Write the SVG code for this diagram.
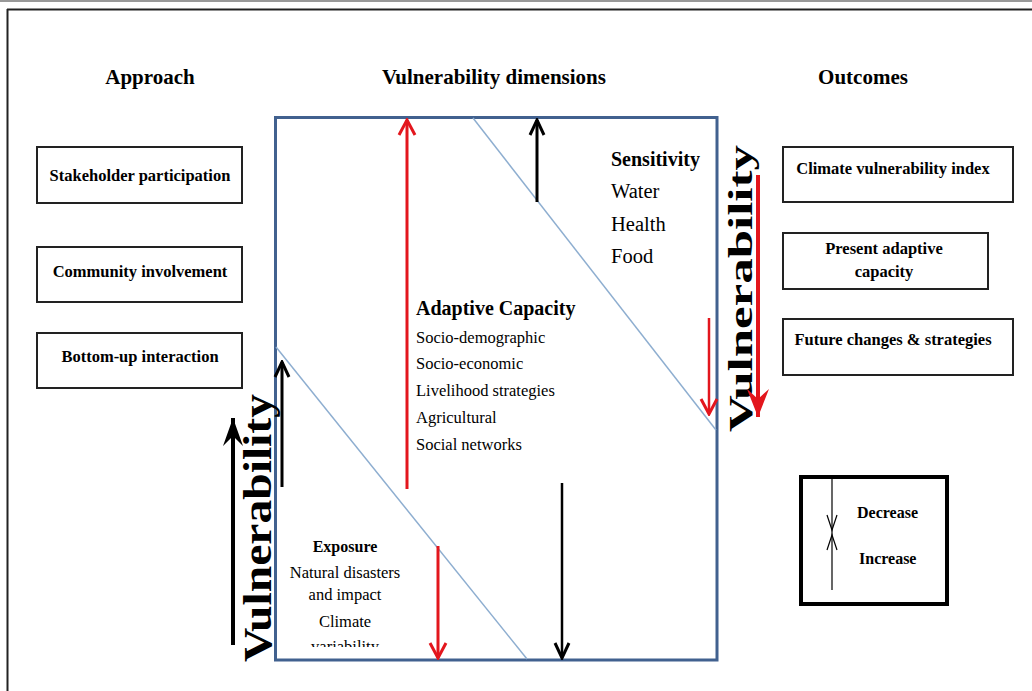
<svg xmlns="http://www.w3.org/2000/svg" width="1032" height="691" viewBox="0 0 1032 691">
<defs>
<style>
.h{font-family:"Liberation Serif",serif;font-weight:bold;font-size:21px;text-anchor:middle;fill:#000}
.bx{fill:#fff;stroke:#222;stroke-width:2}
.bt{font-family:"Liberation Serif",serif;font-weight:bold;font-size:16.5px;text-anchor:middle;fill:#000}
.rg{font-family:"Liberation Serif",serif;fill:#000}
.bd{font-family:"Liberation Serif",serif;font-weight:bold;fill:#000}
.diag{stroke:#8eaed0;stroke-width:1.5;fill:none}
.red{stroke:#e3161d;fill:none}
.blk{stroke:#000;fill:none}
</style>
<marker id="chevRed" viewBox="0 0 20 20" refX="18" refY="10" markerWidth="20" markerHeight="20" markerUnits="userSpaceOnUse" orient="auto">
<path d="M3,2 L18,10 L3,18" fill="none" stroke="#e3161d" stroke-width="3"/>
</marker>
<marker id="chevBlk" viewBox="0 0 20 20" refX="18" refY="10" markerWidth="20" markerHeight="20" markerUnits="userSpaceOnUse" orient="auto">
<path d="M3,3 L18,10 L3,17" fill="none" stroke="#000" stroke-width="3"/>
</marker>
<marker id="barbBlk" viewBox="0 0 30 24" refX="28" refY="12" markerWidth="30" markerHeight="24" markerUnits="userSpaceOnUse" orient="auto">
<path d="M0,2 L28,12 L0,22 L10,12 Z" fill="#000"/>
</marker>
<marker id="barbRed" viewBox="0 0 30 26" refX="28" refY="13" markerWidth="30" markerHeight="26" markerUnits="userSpaceOnUse" orient="auto">
<path d="M0,2 L28,13 L0,24 L10,13 Z" fill="#e3161d"/>
</marker>
<clipPath id="clipExp"><rect x="276" y="520" width="200" height="127"/></clipPath>
</defs>
<rect x="0" y="0" width="1032" height="691" fill="#fff"/>
<g id="frame">
<line x1="0" y1="1" x2="1032" y2="1" stroke="#777" stroke-width="1.5"/>
<line x1="7" y1="9.5" x2="1032" y2="9.5" stroke="#222" stroke-width="2"/>
<line x1="7.5" y1="9" x2="7.5" y2="691" stroke="#222" stroke-width="2"/>
</g>
<g id="headings">
<text class="h" x="150" y="84">Approach</text>
<text class="h" x="494" y="84">Vulnerability dimensions</text>
<text class="h" x="863" y="84">Outcomes</text>
</g>
<g id="stakeholder"><rect class="bx" x="37" y="147" width="205" height="56"/><text class="bt" x="140" y="181">Stakeholder participation</text></g>
<g id="community"><rect class="bx" x="37" y="247" width="205" height="55"/><text class="bt" x="140" y="277">Community involvement</text></g>
<g id="bottomup"><rect class="bx" x="37" y="333" width="205" height="55"/><text class="bt" x="140" y="362">Bottom-up interaction</text></g>
<g id="cvi"><rect class="bx" x="783" y="147" width="230" height="55"/><text class="bt" x="893" y="174">Climate vulnerability index</text></g>
<g id="pac"><rect class="bx" x="783" y="233" width="205" height="56"/><text class="bt" x="884" y="254">Present adaptive</text><text class="bt" x="884" y="277">capacity</text></g>
<g id="future"><rect class="bx" x="783" y="319" width="230" height="56"/><text class="bt" x="893" y="345">Future changes &amp; strategies</text></g>
<g id="dimensions">
<rect x="275.5" y="117.5" width="441.5" height="542.5" fill="#fff" stroke="#41618f" stroke-width="3"/>
<line class="diag" x1="473" y1="118" x2="716" y2="430"/>
<line class="diag" x1="276" y1="347" x2="527" y2="659"/>
</g>
<g id="sensitivity">
<text class="bd" x="611" y="166" font-size="20">Sensitivity</text>
<text class="rg" x="611" y="198" font-size="20.5">Water</text>
<text class="rg" x="611" y="231" font-size="20.5">Health</text>
<text class="rg" x="611" y="263" font-size="20.5">Food</text>
</g>
<g id="adaptive">
<text class="bd" x="416" y="315" font-size="20">Adaptive Capacity</text>
<text class="rg" x="416" y="343" font-size="16.5">Socio-demographic</text>
<text class="rg" x="416" y="369" font-size="16.5">Socio-economic</text>
<text class="rg" x="416" y="396" font-size="16.5">Livelihood strategies</text>
<text class="rg" x="416" y="423" font-size="16.5">Agricultural</text>
<text class="rg" x="416" y="450" font-size="16.5">Social networks</text>
</g>
<g id="exposure">
<text class="bd" x="345" y="552" font-size="16" text-anchor="middle">Exposure</text>
<text class="rg" x="345" y="578" font-size="16.5" text-anchor="middle">Natural disasters</text>
<text class="rg" x="345" y="600" font-size="16.5" text-anchor="middle">and impact</text>
<text class="rg" x="345" y="627" font-size="16.5" text-anchor="middle">Climate</text>
<text class="rg" x="345" y="652" font-size="16.5" text-anchor="middle" clip-path="url(#clipExp)">variability</text>
</g>
<g id="vuln-left">
<text class="bd" transform="translate(271,662) rotate(-90)" font-size="41" textLength="268" lengthAdjust="spacingAndGlyphs">Vulnerability</text>
</g>
<g id="vuln-right">
<text class="bd" transform="translate(752,432) rotate(-90)" font-size="33" textLength="287" lengthAdjust="spacingAndGlyphs">Vulnerability</text>
</g>
<g id="legend">
<rect x="801" y="477" width="146" height="127" fill="#fff" stroke="#000" stroke-width="4"/>
<line x1="832" y1="478" x2="832" y2="590" stroke="#000" stroke-width="1.2"/>
<path d="M827,515 L832,530 L837,515" fill="none" stroke="#000" stroke-width="1.2"/>
<path d="M827,550 L832,535 L837,550" fill="none" stroke="#000" stroke-width="1.2"/>
<text class="bd" x="857" y="518" font-size="16">Decrease</text>
<text class="bd" x="859" y="564" font-size="16">Increase</text>
</g>
<g id="connectors">
<line class="red" x1="407" y1="489" x2="407" y2="120" stroke-width="3" marker-end="url(#chevRed)"/>
<line class="blk" x1="537" y1="202" x2="537" y2="120" stroke-width="3" marker-end="url(#chevBlk)"/>
<line class="blk" x1="282" y1="487" x2="282" y2="362" stroke-width="3" marker-end="url(#chevBlk)"/>
<line class="red" x1="438" y1="546" x2="438" y2="658" stroke-width="3" marker-end="url(#chevRed)"/>
<line class="blk" x1="562" y1="483" x2="562" y2="658" stroke-width="2.5" marker-end="url(#chevBlk)"/>
<line class="red" x1="709" y1="318" x2="709" y2="414" stroke-width="2.5" marker-end="url(#chevRed)"/>
<line class="blk" x1="233" y1="645" x2="233" y2="418" stroke-width="4" marker-end="url(#barbBlk)"/>
<line class="red" x1="758" y1="175" x2="758" y2="417" stroke-width="4" marker-end="url(#barbRed)"/>
</g>
</svg>
